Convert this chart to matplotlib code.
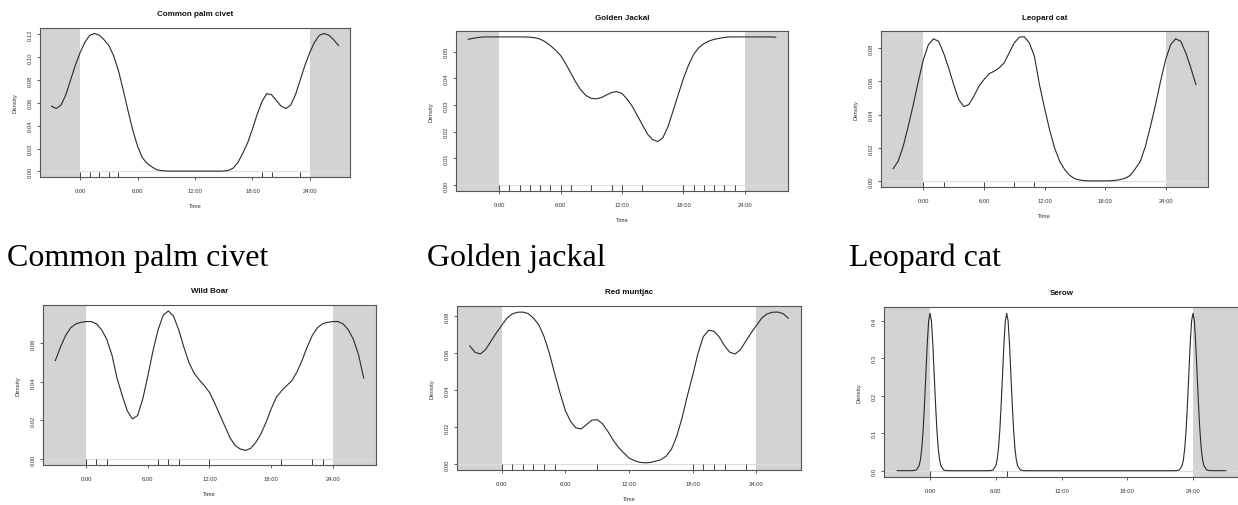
import matplotlib
matplotlib.use('Agg')
import matplotlib.pyplot as plt
import numpy as np

W, H = 1238, 506

# half-hour grid 0..24 used by the first five panels
hours = np.arange(0, 24.5, 0.5)

civet = [0.104, 0.113, 0.119, 0.1205, 0.119, 0.115, 0.110, 0.101, 0.088, 0.071,
         0.053, 0.036, 0.022, 0.012, 0.007, 0.004, 0.0015, 0.0008, 0.0004,
         0.0003, 0.0003, 0.0003, 0.0003, 0.0003, 0.0003, 0.0003, 0.0003, 0.0003, 0.0003, 0.0003,
         0.0004, 0.001, 0.003, 0.008, 0.016, 0.025, 0.037, 0.050, 0.061, 0.068,
         0.067, 0.062, 0.057, 0.055, 0.058, 0.067, 0.080, 0.093, 0.104]
civet_rug = [0, 1, 2, 3, 4, 19, 20, 23]

jackal = [0.0555, 0.0555, 0.0555, 0.0555, 0.0555, 0.0555,
          0.0554, 0.0552, 0.0547, 0.0537, 0.0523, 0.0506,
          0.0486, 0.0455, 0.042, 0.0385, 0.0355, 0.0335,
          0.0325, 0.0323, 0.0328, 0.0338, 0.0347, 0.0350,
          0.0343, 0.0322, 0.0295, 0.026, 0.0225, 0.019,
          0.017, 0.0163, 0.0178, 0.022, 0.028, 0.034,
          0.040, 0.045, 0.049, 0.0515, 0.053, 0.054,
          0.0546, 0.055, 0.0553, 0.0555, 0.0555, 0.0555,
          0.0555]
jackal_rug = [0, 1, 2, 3, 4, 5, 6, 7, 9, 11, 12, 14, 18, 19, 20, 21, 22, 23]

leopard = [0.073, 0.082, 0.0855, 0.084, 0.077, 0.068,
           0.058, 0.049, 0.0448, 0.046, 0.051, 0.057,
           0.061, 0.0645, 0.066, 0.068, 0.071, 0.077,
           0.083, 0.0865, 0.0867, 0.083, 0.075, 0.058,
           0.044, 0.031, 0.020, 0.012, 0.007, 0.0035,
           0.0015, 0.0007, 0.0003, 0.0002, 0.0002, 0.0002,
           0.0002, 0.0003, 0.0005, 0.001, 0.0018, 0.0035,
           0.0075, 0.012, 0.021, 0.033, 0.046, 0.060,
           0.073]
leopard_rug = [0, 2, 6, 9, 11]

boar = [0.0712, 0.0712, 0.070, 0.067, 0.062, 0.054,
        0.042, 0.033, 0.025, 0.0208, 0.0225, 0.031,
        0.043, 0.056, 0.067, 0.0745, 0.0767, 0.074,
        0.067, 0.058, 0.050, 0.0445, 0.041, 0.038,
        0.0345, 0.029, 0.023, 0.017, 0.011, 0.007,
        0.0052, 0.0045, 0.0055, 0.0086, 0.013, 0.019,
        0.026, 0.032, 0.0353, 0.038, 0.0405, 0.045,
        0.051, 0.058, 0.064, 0.068, 0.070, 0.0708,
        0.0712]
boar_rug = [0, 1, 2, 7, 8, 9, 12, 19, 22, 23]

muntjac = [0.075, 0.079, 0.0813, 0.0822, 0.0823, 0.0815,
           0.079, 0.0755, 0.069, 0.060, 0.049, 0.0385,
           0.029, 0.023, 0.0195, 0.019, 0.0213, 0.0237,
           0.024, 0.0218, 0.0177, 0.013, 0.009, 0.006,
           0.0032, 0.0018, 0.0009, 0.0006, 0.0008, 0.0015,
           0.0023, 0.0042, 0.008, 0.015, 0.025, 0.037,
           0.048, 0.060, 0.069, 0.0724, 0.0719, 0.0688,
           0.064, 0.0605, 0.0596, 0.062, 0.0665, 0.071,
           0.075]
muntjac_rug = [0, 1, 2, 3, 4, 5, 9, 18, 19, 20, 21, 23]

# serow has narrow peaks, so it gets its own finer time points
serow_hours = [0, 0.125, 0.25, 0.375, 0.5, 0.625, 0.75, 0.875, 1.0, 1.25, 1.5, 2.0, 3.0,
               5.0, 5.5, 5.75, 6.0, 6.125, 6.25, 6.375, 6.5, 6.625, 6.75, 6.875, 7.0,
               7.125, 7.25, 7.375, 7.5, 7.625, 7.75, 7.875, 8.0, 8.25, 8.5, 9.0,
               21.0, 22.0, 22.5, 22.75, 23.0, 23.125, 23.25, 23.375, 23.5, 23.625, 23.75, 23.875, 24.0]
serow = [0.42, 0.40, 0.34, 0.26, 0.18, 0.11, 0.06, 0.029, 0.013, 0.002, 0.0003, 0.0, 0.0,
         0.0, 0.0003, 0.002, 0.013, 0.029, 0.06, 0.11, 0.18, 0.26, 0.34, 0.40, 0.42,
         0.40, 0.34, 0.26, 0.18, 0.11, 0.06, 0.029, 0.013, 0.002, 0.0003, 0.0,
         0.0, 0.0, 0.0003, 0.002, 0.013, 0.029, 0.06, 0.11, 0.18, 0.26, 0.34, 0.40, 0.42]
serow_rug = [0, 7]

time_ticks = [0, 6, 12, 18, 24]
time_labels = ['0:00', '6:00', '12:00', '18:00', '24:00']

plt.rcParams['font.family'] = 'Liberation Sans'
fig = plt.figure(figsize=(W / 100, H / 100), dpi=100)


def px(l, t, r, b):
    return [l / W, 1 - b / H, (r - l) / W, (b - t) / H]


def panel(rect, title, hrs, dens, rug, yticks, ylabels, show_xlabel=True):
    ax = fig.add_axes(px(*rect))
    h = np.array(hrs, dtype=float)
    d = np.array(dens, dtype=float)
    lo = (h >= 21) & (h < 24)
    hi = (h > 0) & (h <= 3)
    x = np.concatenate([h[lo] - 24, h, h[hi] + 24])
    y = np.concatenate([d[lo], d, d[hi]])
    top = max(dens)
    ax.set_xlim(-4.2, 28.2)
    ax.set_ylim(-0.04 * top, 1.04 * top)
    ax.axvspan(-4.2, 0, color='#d3d3d3', lw=0, zorder=0)
    ax.axvspan(24, 28.2, color='#d3d3d3', lw=0, zorder=0)
    ax.axhline(0, color='#dddddd', lw=0.8, zorder=1)
    ax.plot(x, y, color='#2a2a2a', lw=0.8, zorder=3)
    ax.vlines(rug, 0, 0.035, transform=ax.get_xaxis_transform(), color='#222222', lw=0.6, zorder=2)
    ax.set_xticks(time_ticks, time_labels)
    ax.set_yticks(yticks, ylabels)
    ax.tick_params(axis='both', length=2.4, width=0.6, labelsize=4.2, color='#444444', labelcolor='#333333')
    ax.tick_params(axis='x', pad=5.2)
    ax.tick_params(axis='y', pad=2.5, labelrotation=90)
    for lab in ax.get_yticklabels():
        lab.set_va('center')
    for s in ax.spines.values():
        s.set_color('#555555')
        s.set_linewidth(0.8)
    ax.set_title(title, fontsize=5.8, fontweight='bold', pad=9, color='#111111')
    ax.set_ylabel('Density', fontsize=4.2, labelpad=7.5, color='#333333')
    if show_xlabel:
        ax.set_xlabel('Time', fontsize=4.2, labelpad=7.5, color='#333333')
    return ax


panel((40, 29, 350, 178), 'Common palm civet', hours, civet, civet_rug,
      [0, 0.02, 0.04, 0.06, 0.08, 0.10, 0.12], ['0.00', '0.02', '0.04', '0.06', '0.08', '0.10', '0.12'])
panel((456, 32, 788, 192), 'Golden Jackal', hours, jackal, jackal_rug,
      [0, 0.01, 0.02, 0.03, 0.04, 0.05], ['0.00', '0.01', '0.02', '0.03', '0.04', '0.05'])
panel((881, 32, 1208, 188), 'Leopard cat', hours, leopard, leopard_rug,
      [0, 0.02, 0.04, 0.06, 0.08], ['0.00', '0.02', '0.04', '0.06', '0.08'])
panel((43, 306, 376, 466), 'Wild Boar', hours, boar, boar_rug,
      [0, 0.02, 0.04, 0.06], ['0.00', '0.02', '0.04', '0.06'])
panel((457, 307, 801, 471), 'Red muntjac', hours, muntjac, muntjac_rug,
      [0, 0.02, 0.04, 0.06, 0.08], ['0.00', '0.02', '0.04', '0.06', '0.08'])
panel((884, 308, 1239, 478), 'Serow', serow_hours, serow, serow_rug,
      [0, 0.1, 0.2, 0.3, 0.4], ['0.0', '0.1', '0.2', '0.3', '0.4'], show_xlabel=False)

# captions between the two rows
captions = ['Common palm civet', 'Golden jackal', 'Leopard cat']
caption_x = [7, 427, 849]
for txt, cx in zip(captions, caption_x):
    fig.text(cx / W, 1 - 266 / H, txt, fontsize=23, family='Liberation Serif',
             ha='left', va='baseline', color='black')

fig.savefig('out.png', dpi=100)
